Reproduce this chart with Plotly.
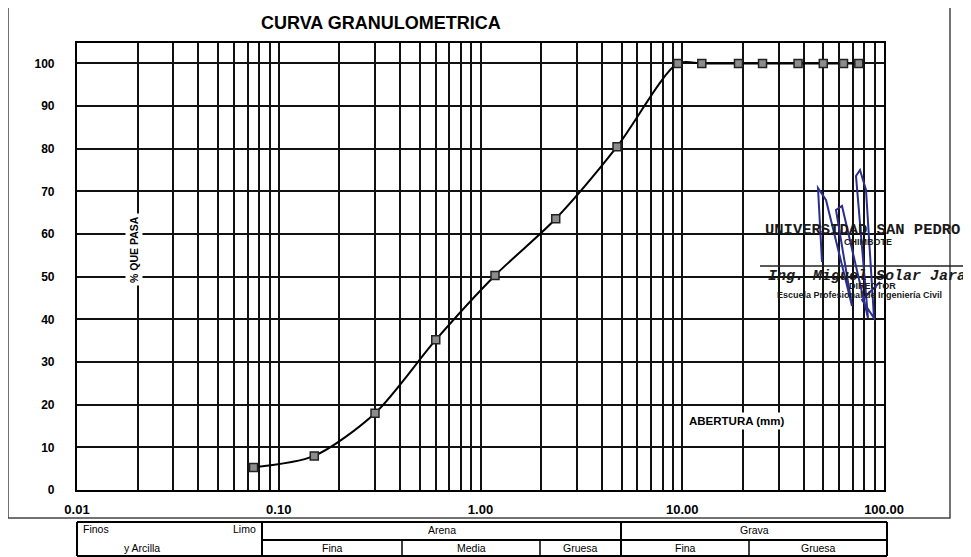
import plotly.graph_objects as go

# ---------------- data ----------------
abertura_mm = [0.075, 0.15, 0.3, 0.6, 1.18, 2.36, 4.75, 9.5, 12.5, 19, 25, 37.5, 50, 63, 75]
pct_que_pasa = [5.3, 8.0, 18.0, 35.2, 50.3, 63.6, 80.5, 100, 100, 100, 100, 100, 100, 100, 100]

x_tickvals = [0.01, 0.1, 1, 10, 100]
x_ticktext = ["0.01", "0.10", "1.00", "10.00", "100.00"]
y_tickvals = [0, 10, 20, 30, 40, 50, 60, 70, 80, 90, 100]

tabla_fila1 = ["Arena", "Grava"]
tabla_fila2 = ["Fina", "Media", "Gruesa", "Fina", "Gruesa"]

# ---------------- layout helpers (page pixel -> paper) ----------------
OFF = 8                      # page body margin
PAGE_W, PAGE_H = 971, 557
W, H = PAGE_W - OFF, PAGE_H - OFF
L, R, T, B = 77, 884, 43, 490   # plot area in page pixels


def px(x):
    return (x - L) / (R - L)


def py(y):
    return (B - y) / (B - T)


minor_vals = [k * 10 ** e for e in range(-2, 2) for k in range(2, 10)]

fig = go.Figure()
fig.add_trace(go.Scatter(
    x=abertura_mm, y=pct_que_pasa, mode="lines+markers",
    line=dict(color="black", width=2, shape="spline", smoothing=0.8),
    marker=dict(symbol="square", size=8, color="#8c8c8c",
                line=dict(color="#222222", width=1.5)),
    showlegend=False, hoverinfo="x+y",
))

AX_FONT = dict(family="Liberation Sans, Arial, sans-serif", color="black", weight="bold")
GRID = "#111111"

fig.update_layout(
    width=W, height=H, autosize=False,
    margin=dict(l=L - OFF, r=PAGE_W - R, t=T - OFF, b=PAGE_H - B, pad=0),
    paper_bgcolor="white", plot_bgcolor="white",
    xaxis=dict(
        type="log", range=[-2, 2],
        tickvals=x_tickvals, ticktext=x_ticktext, ticks="",
        tickfont=dict(size=13, **AX_FONT),
        showgrid=True, gridcolor=GRID, gridwidth=1.6,
        minor=dict(tickvals=minor_vals, showgrid=True, gridcolor=GRID, gridwidth=1.5, ticks=""),
        showline=True, linecolor="black", linewidth=2.2, mirror=True,
        zeroline=False, ticklabelstandoff=6,
    ),
    yaxis=dict(
        range=[0, 104.8], tickvals=y_tickvals, ticks="",
        tickfont=dict(size=12, **AX_FONT),
        showgrid=True, gridcolor=GRID, gridwidth=1.6,
        showline=True, linecolor="black", linewidth=2.2, mirror=True,
        zeroline=False, ticklabelstandoff=18,
    ),
)

annotations = []
shapes = []


def text(x, y, s, size=10, bold=False, family="Liberation Sans, Arial, sans-serif",
         color="black", angle=0, bg=None, xanchor="center", italic=False):
    d = dict(x=px(x), y=py(y), xref="paper", yref="paper", text=s, showarrow=False,
             xanchor=xanchor, yanchor="middle", textangle=angle,
             font=dict(size=size, family=family, color=color,
                       weight="bold" if bold else "normal",
                       style="italic" if italic else "normal"))
    if bg:
        d["bgcolor"] = bg
        d["borderpad"] = 2
    annotations.append(d)


def line(x0, y0, x1, y1, w=1.5, color="black"):
    shapes.append(dict(type="line", xref="paper", yref="paper",
                       x0=px(x0), y0=py(y0), x1=px(x1), y1=py(y1),
                       line=dict(color=color, width=w)))


# title and in-plot labels
text(381, 23, "CURVA GRANULOMETRICA", size=18, bold=True)
text(134, 250, "% QUE PASA", size=10.5, bold=True, angle=-90, bg="white")
text(737, 421, "ABERTURA (mm)", size=11.5, bold=True, bg="white")

# outer frame
shapes.append(dict(type="rect", xref="paper", yref="paper",
                   x0=px(8), y0=py(3), x1=px(950), y1=py(518),
                   line=dict(color="#444444", width=1.5), fillcolor="rgba(0,0,0,0)"))

# classification table
tl, tr, ttop, tmid, tbot = 77, 887, 522, 540, 556
cols = [262, 402, 540, 621, 749]
line(tl, ttop, tr, ttop, w=2.2)
line(tl, tbot, tr, tbot, w=2)
line(tl, ttop, tl, tbot, w=2)
line(tr, ttop, tr, tbot, w=2)
line(cols[0], ttop, cols[0], tbot, w=2)
line(cols[3], ttop, cols[3], tbot, w=2)
line(cols[0], tmid, tr, tmid, w=2)
for c in [cols[1], cols[2], cols[4]]:
    line(c, tmid, c, tbot, w=1.5)

TF = "Liberation Sans, Arial, sans-serif"
TS = 10.5
text(81, 529, "Finos", size=TS, xanchor="left", family=TF)
text(258, 529, "Limo", size=TS, xanchor="right", family=TF)
text(142, 548, "y Arcilla", size=TS, family=TF)
text((cols[0] + cols[3]) / 2, 530, tabla_fila1[0], size=TS, family=TF)
text((cols[3] + tr) / 2, 530, tabla_fila1[1], size=TS, family=TF)
edges = [cols[0], cols[1], cols[2], cols[3], cols[4], tr]
for i, lab in enumerate(tabla_fila2):
    text((edges[i] + edges[i + 1]) / 2, 548, lab, size=TS, family=TF)

# stamp
SF = "Liberation Mono, Courier New, monospace"
text(763, 230, "UNIVERSIDAD SAN PEDRO", size=15.5, bold=True, family=SF, xanchor="left", color="#1a1a1a")
text(868, 242, "CHIMBOTE", size=9, bold=True, family=TF, color="#1a1a1a")
line(760, 266, 971, 266, w=1.5, color="#222222")
text(766, 276, "Ing. Miguel Solar Jara", size=15, bold=True, italic=True, family=SF,
     xanchor="left", color="#1a1a1a")
text(872, 286, "DIRECTOR", size=9, bold=True, family=TF, color="#1a1a1a")
text(775, 295, "Escuela Profesional de Ingeniería Civil", size=9, bold=True, family=TF,
     xanchor="left", color="#1a1a1a")

# signature (decorative)
sig_pts = [(822, 262), (818, 188), (826, 200), (852, 306), (836, 210), (842, 206),
           (868, 318), (856, 176), (860, 170), (866, 190), (874, 318), (862, 300), (880, 282)]
path = "M " + " L ".join(f"{px(a):.5f},{py(b):.5f}" for a, b in sig_pts)
shapes.append(dict(type="path", xref="paper", yref="paper", path=path,
                   line=dict(color="#2b2f8f", width=2)))

fig.update_layout(annotations=annotations, shapes=shapes)
fig.write_html("out.html")
